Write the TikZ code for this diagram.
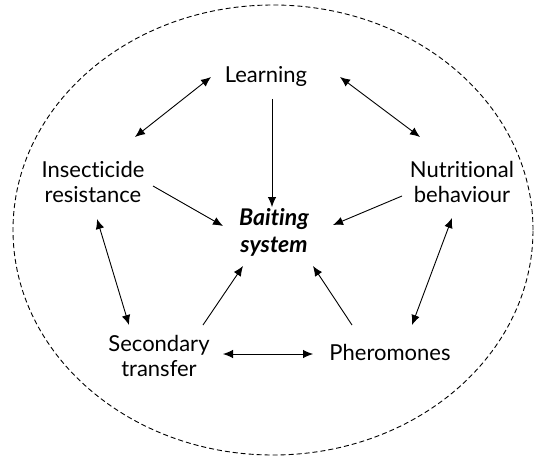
\documentclass[tikz,border=0pt]{standalone}
\usepackage{fontspec}
\setmainfont{Lato}[Ligatures={NoCommon}]
\usetikzlibrary{arrows,positioning}
\usetikzlibrary{arrows.meta}
\tikzstyle{topic}=[align=center, inner sep=1pt, font=\fontsize{22}{25}\selectfont]
\tikzstyle{oneWay}=[line width=0.9pt, -{Latex[length=10pt,width=8.5pt]}]
\tikzstyle{twoWay}=[line width=0.9pt, {Latex[length=10pt,width=8.5pt]}-{Latex[length=10pt,width=8.5pt]}]

\begin{document}
\begin{tikzpicture}[x=1pt, y=-1pt]
    \useasboundingbox (0, 0) rectangle (534, 457);

    \node[topic] (learn) at (266, 76) {Learning};
    \node[topic] (insect) at (93, 182) {Insecticide\\resistance};
    \node[topic] (nutri) at (462, 182) {Nutritional\\behaviour};
    \node[topic, font=\fontsize{23}{27}\selectfont\bfseries\itshape] (bait) at (274, 232) {Baiting\\system};
    \node[topic] (second) at (159, 356) {Secondary\\transfer};
    \node[topic] (phero) at (390, 352) {Pheromones};

    % Boundary
    \draw[line width=0.9pt, dash pattern=on 5pt off 3pt] (273, 230) ellipse [x radius=260pt, y radius=225pt];

    % Arcs
    \draw[twoWay] ([shift={(-55,1)}]learn.center) -- ([shift={(42,-45)}]insect.center);
    \draw[twoWay] ([shift={(74,1)}]learn.center) -- ([shift={(-42,-45)}]nutri.center);
    \draw[oneWay] ([shift={(6,23)}]learn.center) -- ([shift={(-2,-25)}]bait.center);

    \draw[oneWay] ([shift={(60,4)}]insect.center) -- ([shift={(-51,-6)}]bait.center);
    \draw[oneWay] ([shift={(-60,14)}]nutri.center) -- ([shift={(59,-7)}]bait.center);

    \draw[twoWay] ([shift={(4,37)}]insect.center) -- ([shift={(-30,-31)}]second.center);
    \draw[twoWay] ([shift={(-10,36)}]nutri.center) -- ([shift={(22,-27)}]phero.center);

    \draw[oneWay] ([shift={(44,-31)}]second.center) -- ([shift={(-31,34)}]bait.center);
    \draw[oneWay] ([shift={(-38,-27)}]phero.center) -- ([shift={(39,34)}]bait.center);
    \draw[twoWay] ([shift={(64,-2)}]second.center) -- ([shift={(-77,2)}]phero.center);

\end{tikzpicture}
\end{document}
